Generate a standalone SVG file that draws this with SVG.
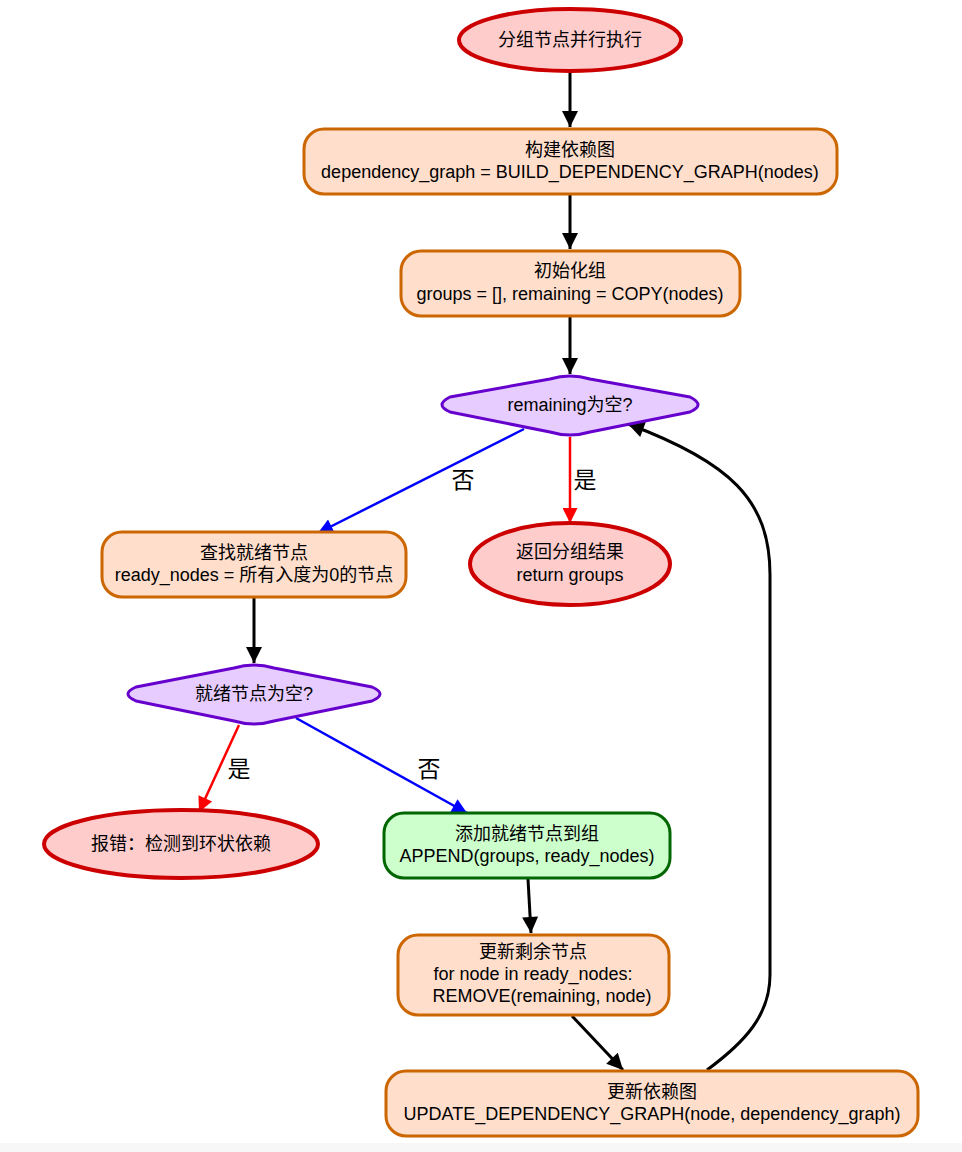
<svg xmlns="http://www.w3.org/2000/svg" width="962" height="1152" viewBox="0 0 962 1152">
  <style>
    .t { font-family: "Liberation Sans", Arial, "Noto Sans CJK SC", sans-serif; font-size: 18px; fill: #000; text-anchor: middle; }
    .lbl { font-family: "Liberation Serif", "Noto Sans CJK SC", serif; font-size: 23px; fill: #000; text-anchor: middle; }
    .term { fill: #ffcccc; stroke: #cc0000; stroke-width: 4; }
    .proc { fill: #ffdecc; stroke: #cc6600; stroke-width: 3; }
    .ok { fill: #ccffcc; stroke: #006600; stroke-width: 3; }
    .dec { fill: #e6ccff; stroke: #6600cc; stroke-width: 3; stroke-linejoin: round; }
    .e { fill: none; stroke: #000; stroke-width: 3; }
    .eb { fill: none; stroke: #0000ff; stroke-width: 2.5; }
    .er { fill: none; stroke: #ff0000; stroke-width: 2.5; }
  </style>
  <defs>
    <marker id="ah" viewBox="0 0 10 10" refX="10" refY="5" markerWidth="20" markerHeight="16" markerUnits="userSpaceOnUse" orient="auto">
      <path d="M0,0 L10,5 L0,10 z" fill="#000"/>
    </marker>
    <marker id="ahb" viewBox="0 0 10 10" refX="10" refY="5" markerWidth="19" markerHeight="15" markerUnits="userSpaceOnUse" orient="auto">
      <path d="M0,0 L10,5 L0,10 z" fill="#0000ff"/>
    </marker>
    <marker id="ahr" viewBox="0 0 10 10" refX="10" refY="5" markerWidth="19" markerHeight="15" markerUnits="userSpaceOnUse" orient="auto">
      <path d="M0,0 L10,5 L0,10 z" fill="#ff0000"/>
    </marker>
  </defs>

  <rect x="0" y="1143" width="962" height="9" fill="#f7f7f7"/>

  <!-- connectors -->
  <g id="edges">
    <path class="e" d="M570,72 L570,127" marker-end="url(#ah)"/>
    <path class="e" d="M570,195 L570,249" marker-end="url(#ah)"/>
    <path class="e" d="M570,317 L570,374" marker-end="url(#ah)"/>
    <path class="eb" d="M524,429 L318,533" marker-end="url(#ahb)"/>
    <text class="lbl" x="463" y="488">否</text>
    <path class="er" d="M570,437 L570,523" marker-end="url(#ahr)"/>
    <text class="lbl" x="585" y="488">是</text>
    <path class="e" d="M254,598 L254,663" marker-end="url(#ah)"/>
    <path class="er" d="M239,725 L199,812" marker-end="url(#ahr)"/>
    <text class="lbl" x="239" y="777">是</text>
    <path class="eb" d="M296,718 L467,813" marker-end="url(#ahb)"/>
    <text class="lbl" x="429" y="777">否</text>
    <path class="e" d="M528,879 L531,933" marker-end="url(#ah)"/>
    <path class="e" d="M572,1016 L623,1070" marker-end="url(#ah)"/>
    <path class="e" d="M707,1070 C745,1042 770,1015 770,975 L770,575 C770,500 730,462 628,424" marker-end="url(#ah)"/>
  </g>

  <g id="start">
    <ellipse class="term" cx="570" cy="40" rx="111" ry="31"/>
    <text class="t" x="570" y="46">分组节点并行执行</text>
  </g>

  <g id="build">
    <rect class="proc" x="304" y="129" width="533" height="65" rx="20"/>
    <text class="t" x="570" y="156">构建依赖图</text>
    <text class="t" x="570" y="178">dependency_graph = BUILD_DEPENDENCY_GRAPH(nodes)</text>
  </g>

  <g id="init">
    <rect class="proc" x="401" y="251" width="339" height="65" rx="20"/>
    <text class="t" x="570" y="277">初始化组</text>
    <text class="t" x="570" y="300">groups = [], remaining = COPY(nodes)</text>
  </g>

  <g id="check-remaining">
    <path class="dec" d="M570,376 Q580,376 590,379 L690,397 Q706,405 690,412 L590,432 Q580,435 570,435 Q560,435 550,432 L450,412 Q434,405 450,397 L550,379 Q560,376 570,376 Z"/>
    <text class="t" x="570" y="411">remaining为空?</text>
  </g>

  <g id="return">
    <ellipse class="term" cx="570" cy="564" rx="100" ry="41"/>
    <text class="t" x="570" y="558">返回分组结果</text>
    <text class="t" x="570" y="581">return groups</text>
  </g>

  <g id="find-ready">
    <rect class="proc" x="102" y="532" width="304" height="65" rx="20"/>
    <text class="t" x="254" y="559">查找就绪节点</text>
    <text class="t" x="254" y="581">ready_nodes = 所有入度为0的节点</text>
  </g>

  <g id="check-ready">
    <path class="dec" d="M254,665 Q264,665 274,668 L372,687 Q388,694 372,701 L274,721 Q264,724 254,724 Q244,724 234,721 L136,701 Q120,694 136,687 L234,668 Q244,665 254,665 Z"/>
    <text class="t" x="254" y="700">就绪节点为空?</text>
  </g>

  <g id="error">
    <ellipse class="term" cx="181" cy="844" rx="137" ry="34"/>
    <text class="t" x="181" y="850">报错：检测到环状依赖</text>
  </g>

  <g id="append">
    <rect class="ok" x="384" y="813" width="286" height="65" rx="20"/>
    <text class="t" x="527" y="840">添加就绪节点到组</text>
    <text class="t" x="527" y="862">APPEND(groups, ready_nodes)</text>
  </g>

  <g id="update-remaining">
    <rect class="proc" x="398" y="935" width="271" height="80" rx="20"/>
    <text class="t" x="533" y="958">更新剩余节点</text>
    <text class="t" x="533" y="980">for node in ready_nodes:</text>
    <text class="t" x="542" y="1002">REMOVE(remaining, node)</text>
  </g>

  <g id="update-graph">
    <rect class="proc" x="386" y="1071" width="532" height="65" rx="20"/>
    <text class="t" x="652" y="1098">更新依赖图</text>
    <text class="t" x="652" y="1120">UPDATE_DEPENDENCY_GRAPH(node, dependency_graph)</text>
  </g>
</svg>
